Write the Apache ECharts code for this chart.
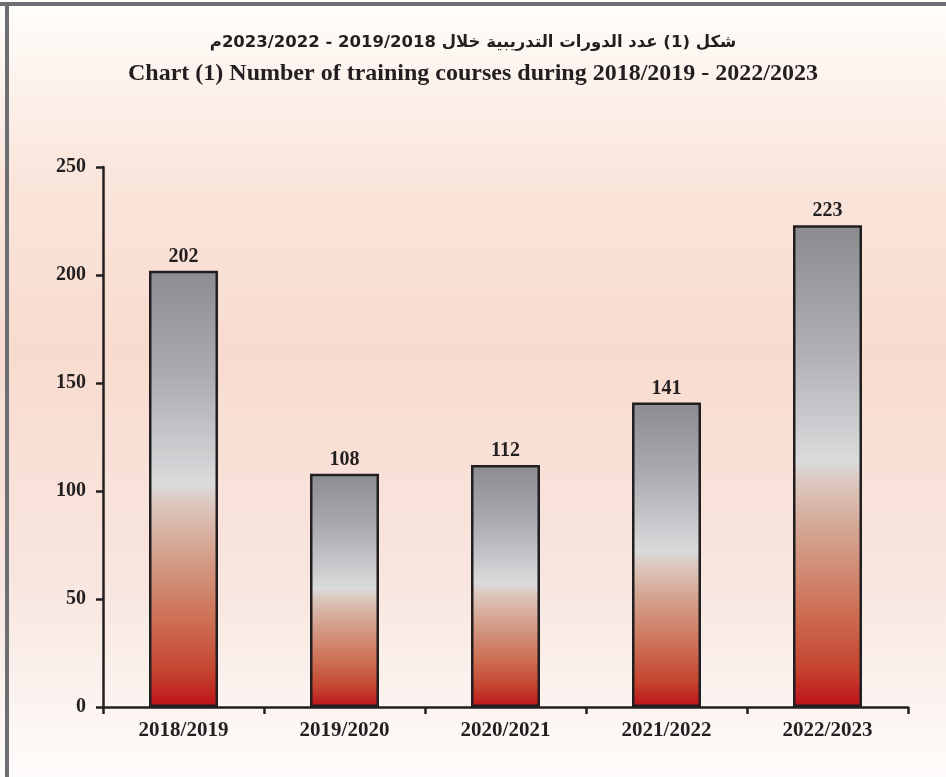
<!DOCTYPE html>
<html>
<head>
<meta charset="utf-8">
<script src="https://cdn.jsdelivr.net/npm/echarts@6/dist/echarts.min.js"></script>
<style>
  html, body { margin: 0; padding: 0; }
  #chart { width: 946px; height: 777px; }
</style>
</head>
<body>
<div id="chart"></div>
<script>
  var years = ['2018/2019', '2019/2020', '2020/2021', '2021/2022', '2022/2023']
  var courses = [202, 108, 112, 141, 223]
  var titleAr = 'شكل (1) عدد الدورات التدريبية خلال 2019/2018 - 2023/2022م'
  var titleEn = 'Chart (1) Number of training courses during 2018/2019 - 2022/2023'

  var ink = '#231f20'
  var serif = '"Liberation Serif", "Times New Roman", serif'

  var myChart = echarts.init(document.getElementById('chart'))

  // bar fill: grey on top, pale in the middle, red at the foot
  var barFill = new echarts.graphic.LinearGradient(0, 0, 0, 1, [
    { offset: 0, color: '#8b8c90' },
    { offset: 0.25, color: '#acaeb1' },
    { offset: 0.49, color: '#dadbdd' },
    { offset: 0.53, color: '#dcc9c0' },
    { offset: 0.63, color: '#d5a693' },
    { offset: 0.8, color: '#cd7055' },
    { offset: 0.92, color: '#c4432f' },
    { offset: 1, color: '#bd1219' }
  ])

  var option = {
    backgroundColor: new echarts.graphic.LinearGradient(0, 0, 0, 1, [
      { offset: 0, color: '#fffefb' },
      { offset: 0.22, color: '#fae6dc' },
      { offset: 0.45, color: '#f8dbcf' },
      { offset: 0.75, color: '#f8e6df' },
      { offset: 1, color: '#fefcfb' }
    ]),
    animation: false,
    title: [
      {
        text: titleAr,
        left: 'center',
        top: 29,
        textStyle: { fontFamily: '"DejaVu Sans", sans-serif', fontWeight: 'bold', fontSize: 16.5, color: ink }
      },
      {
        text: titleEn,
        left: 'center',
        top: 57,
        textStyle: { fontFamily: serif, fontWeight: 'bold', fontSize: 24, color: ink }
      }
    ],
    graphic: [
      { type: 'rect', shape: { x: 0, y: 2, width: 946, height: 4 }, style: { fill: '#6d6e71' } },
      { type: 'rect', shape: { x: 5, y: 2, width: 4, height: 775 }, style: { fill: '#6d6e71' } }
    ],
    grid: {
      left: 103,
      right: 38,
      top: 167,
      bottom: 70
    },
    xAxis: {
      type: 'category',
      data: years,
      axisLine: { lineStyle: { color: ink, width: 2.5 } },
      axisTick: { show: true, length: 7, lineStyle: { color: ink, width: 2.5 } },
      axisLabel: { color: ink, fontFamily: serif, fontWeight: 'bold', fontSize: 21, margin: 13 }
    },
    yAxis: {
      type: 'value',
      min: 0,
      max: 250,
      interval: 50,
      axisLine: { show: true, lineStyle: { color: ink, width: 2.5 } },
      axisTick: { show: true, length: 7, lineStyle: { color: ink, width: 2.5 } },
      splitLine: { show: false },
      axisLabel: { color: ink, fontFamily: serif, fontWeight: 'bold', fontSize: 20, margin: 17 }
    },
    series: [
      {
        type: 'bar',
        data: courses,
        barWidth: 69,
        itemStyle: {
          color: barFill,
          borderColor: ink,
          borderWidth: 2.5
        },
        label: {
          show: true,
          position: 'top',
          distance: 4,
          color: ink,
          fontFamily: serif,
          fontWeight: 'bold',
          fontSize: 20
        }
      }
    ]
  }

  myChart.setOption(option)
</script>
</body>
</html>
